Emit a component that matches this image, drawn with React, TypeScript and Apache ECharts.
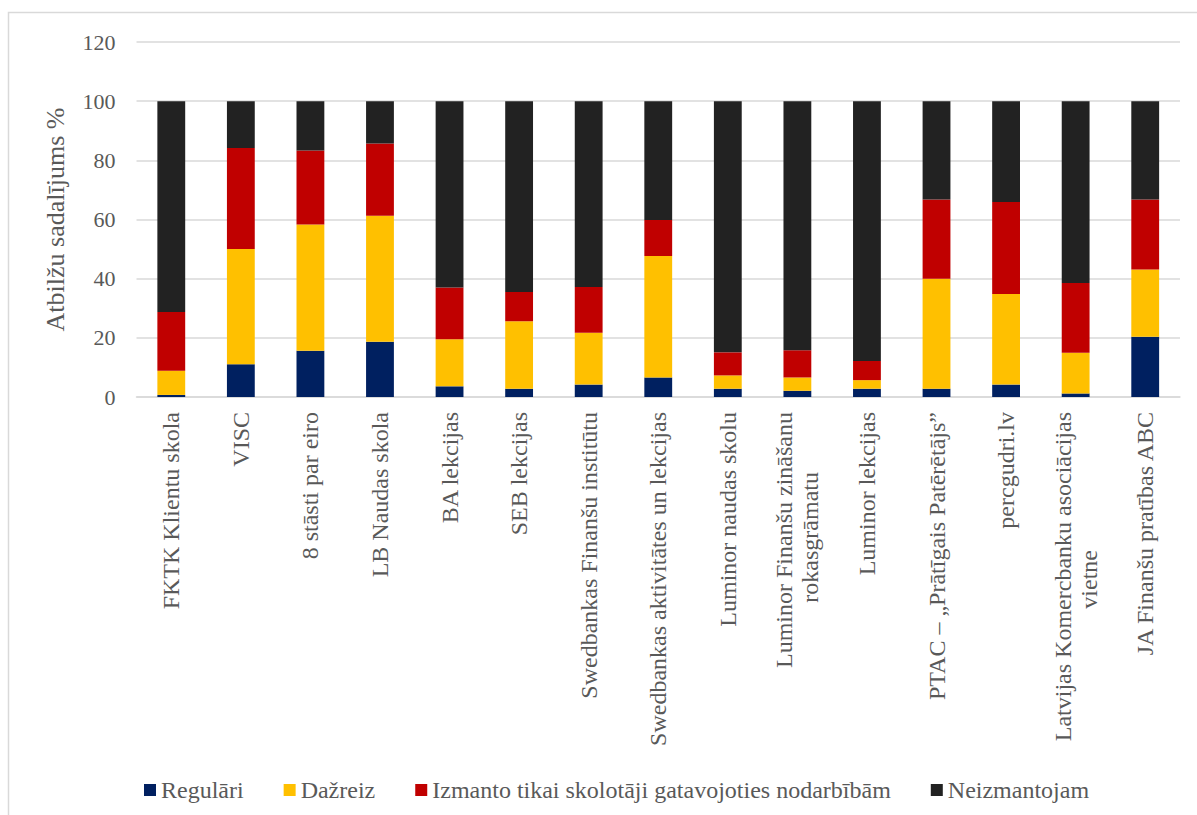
import React, { useEffect, useRef } from "react";
import * as echarts from "echarts";

const categories = [
  "FKTK Klientu skola",
  "VISC",
  "8 stāsti par eiro",
  "LB Naudas skola",
  "BA lekcijas",
  "SEB lekcijas",
  "Swedbankas Finanšu institūtu",
  "Swedbankas aktivitātes un lekcijas",
  "Luminor naudas skolu",
  "Luminor Finanšu zināšanu\nrokasgrāmatu",
  "Luminor lekcijas",
  "PTAC – „Prātīgais Patērētājs”",
  "percgudri.lv",
  "Latvijas Komercbanku asociācijas\nvietne",
  "JA Finanšu pratības ABC",
];

const seriesNames = [
  "Regulāri",
  "Dažreiz",
  "Izmanto tikai skolotāji gatavojoties nodarbībām",
  "Neizmantojam",
];

const regulari = [0.7, 11.1, 15.6, 18.7, 3.6, 2.8, 4.2, 6.6, 2.8, 2.1, 2.8, 2.8, 4.2, 1.2, 20.4];
const dazreiz = [8.2, 38.9, 42.7, 42.6, 15.9, 22.8, 17.5, 41.1, 4.5, 4.5, 2.9, 37.2, 30.6, 13.8, 22.7];
const izmanto = [19.8, 34.2, 25.0, 24.4, 17.5, 9.9, 15.5, 12.1, 7.8, 9.2, 6.5, 26.8, 31.1, 23.5, 23.7];
const neizmantojam = [71.3, 15.8, 16.7, 14.3, 63.0, 64.5, 62.8, 40.2, 84.9, 84.2, 87.8, 33.2, 34.1, 61.5, 33.2];

const yTicks = { min: 0, max: 120, interval: 20 };
const yAxisName = "Atbilžu sadalījums %";

const colors = ["#002060", "#FFC000", "#C00000", "#222222"];
const FONT = "'Liberation Serif', 'Times New Roman', serif";
const TEXT = "#595959";

function centerLines(label: string): string {
  const lines = label.split("\n");
  if (lines.length < 2) return label;
  const canvas = document.createElement("canvas");
  const ctx = canvas.getContext("2d");
  if (!ctx) return label;
  ctx.font = "24px 'Liberation Serif'";
  const w = lines.map((l) => ctx.measureText(l).width);
  const maxW = Math.max(...w);
  const sp = ctx.measureText("\u00A0").width || 6;
  return lines
    .map((l, i) => l + "\u00A0".repeat(Math.max(0, Math.round((maxW - w[i]) / 2 / sp))))
    .join("\n");
}

export default function App() {
  const ref = useRef<HTMLDivElement>(null);
  useEffect(() => {
    if (!ref.current) return;
    const chart = echarts.init(ref.current, undefined, { renderer: "svg" });
    const data = [regulari, dazreiz, izmanto, neizmantojam];
    chart.setOption({
      animation: false,
      backgroundColor: "#ffffff",
      textStyle: { fontFamily: FONT },
      graphic: [
        {
          type: "rect",
          shape: { x: 8.5, y: 12.5, width: 1200, height: 820 },
          style: { fill: "none", stroke: "#d9d9d9", lineWidth: 1.5 },
          silent: true,
        },
      ],
      grid: { left: 136.5, right: 17, top: 42, bottom: 418 },
      legend: {
        left: 139,
        top: 773,
        itemWidth: 12,
        itemHeight: 12,
        itemGap: 40,
        icon: "rect",
        textStyle: { fontFamily: FONT, fontSize: 24, color: TEXT, padding: [0, 0, 0, 0] },
        data: seriesNames,
      },
      xAxis: {
        type: "category",
        data: categories,
        axisLine: { show: true, lineStyle: { color: "#d9d9d9", width: 1.5 } },
        axisTick: { show: false },
        axisLabel: {
          interval: 0,
          rotate: 90,
          margin: 15,
          fontFamily: FONT,
          fontSize: 24,
          lineHeight: 26,
          color: TEXT,
          formatter: (v: string) => centerLines(v),
        },
      },
      yAxis: {
        type: "value",
        min: yTicks.min,
        max: yTicks.max,
        interval: yTicks.interval,
        name: yAxisName,
        nameLocation: "middle",
        nameRotate: 90,
        nameGap: 68,
        nameTextStyle: { fontFamily: FONT, fontSize: 26, color: TEXT },
        axisLine: { show: false },
        axisTick: { show: false },
        axisLabel: { fontFamily: FONT, fontSize: 22, color: TEXT, margin: 21 },
        splitLine: { lineStyle: { color: "#d9d9d9", width: 1.5 } },
      },
      series: seriesNames.map((name, i) => ({
        name,
        type: "bar",
        stack: "total",
        barWidth: "40%",
        itemStyle: { color: colors[i] },
        data: data[i],
      })),
    });
    return () => chart.dispose();
  }, []);
  return (
    <div
      ref={ref}
      style={{ position: "absolute", left: 0, top: 0, width: 1197, height: 815 }}
    />
  );
}
